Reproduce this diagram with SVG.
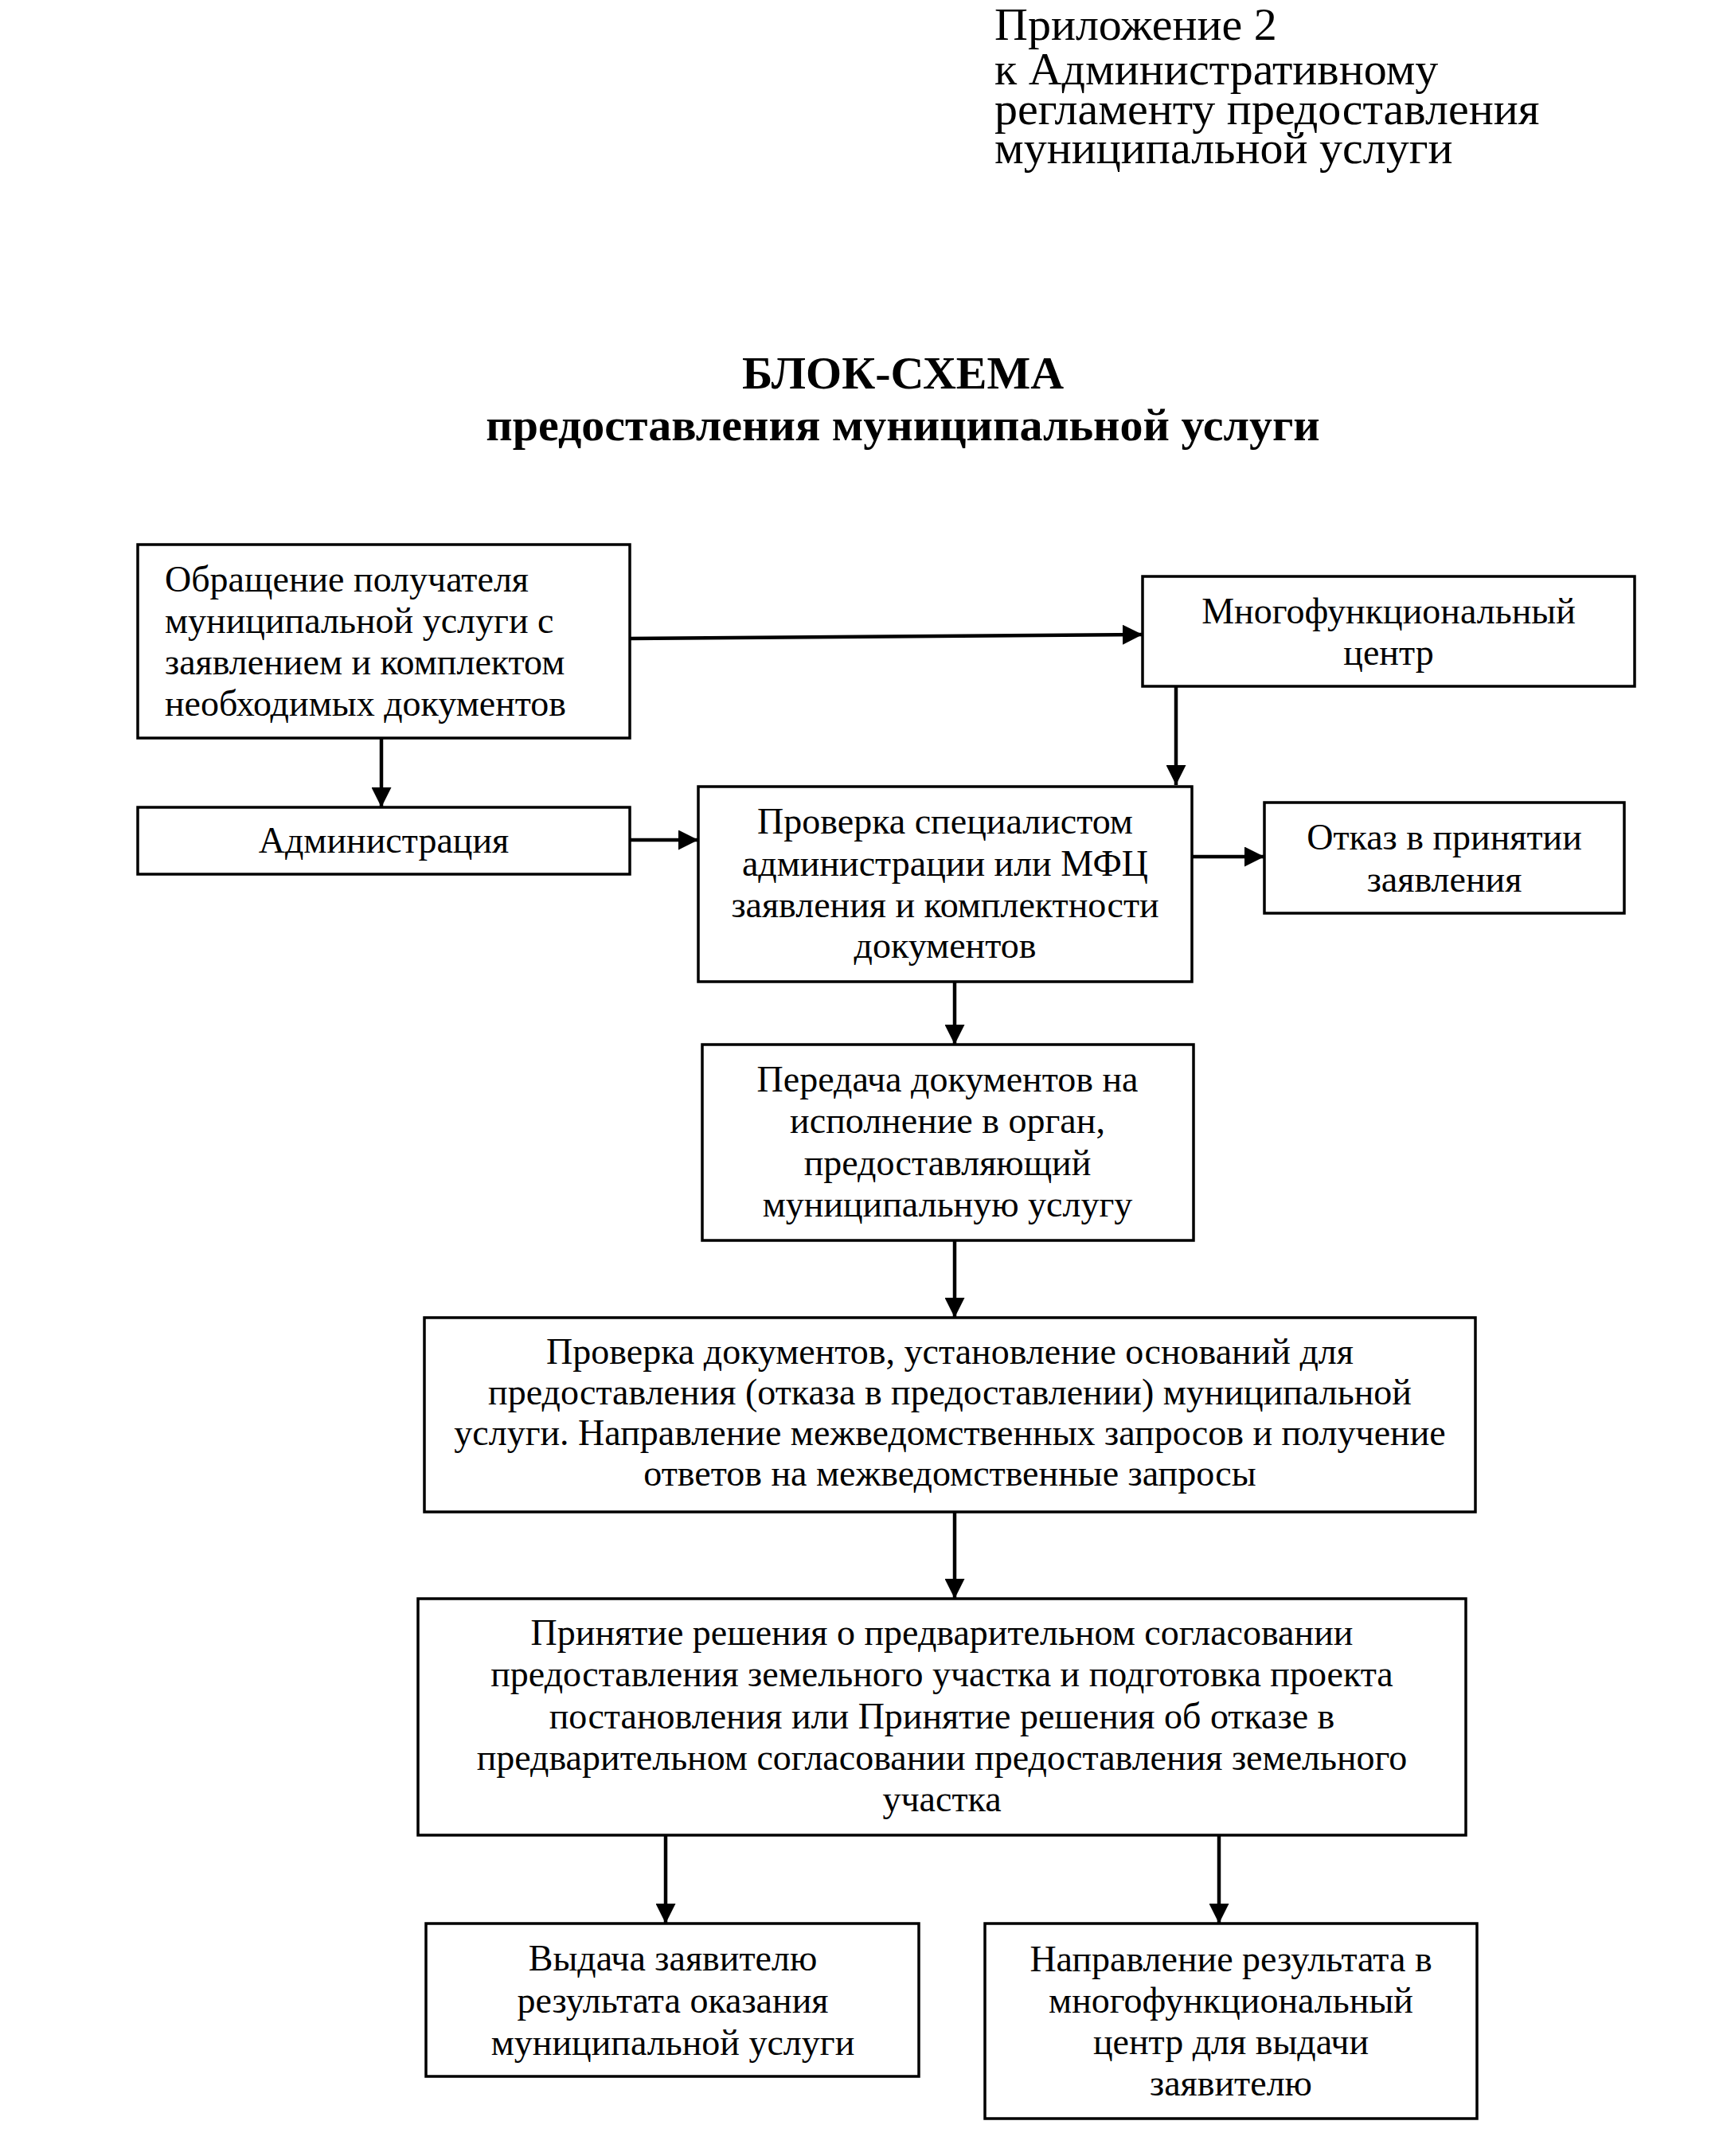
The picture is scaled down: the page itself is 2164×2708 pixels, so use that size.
<svg xmlns="http://www.w3.org/2000/svg" width="2164" height="2708" viewBox="0 0 2164 2708">
<style>
.box{fill:#fff;stroke:#000;stroke-width:3.5}
.t{font-family:"Liberation Serif","Times New Roman",serif;font-size:46px;fill:#000}
.c{text-anchor:middle}
.hdr{font-family:"Liberation Serif","Times New Roman",serif;font-size:58px;fill:#000}
.ttl{font-family:"Liberation Serif","Times New Roman",serif;font-size:58px;font-weight:bold;fill:#000;text-anchor:middle}
.conn{stroke:#000;stroke-width:4.5;fill:none;marker-end:url(#ah)}
</style>
<defs>
<marker id="ah" viewBox="0 0 24 24" refX="24" refY="12" markerWidth="25" markerHeight="25" markerUnits="userSpaceOnUse" orient="auto">
<path d="M0,0 L24,12 L0,24 z" fill="#000"/>
</marker>
</defs>
<rect width="2164" height="2708" fill="#fff"/>
<g id="header">
<text class="hdr" x="1249" y="50">Приложение 2</text>
<text class="hdr" x="1249" y="106">к Административному</text>
<text class="hdr" x="1249" y="156">регламенту предоставления</text>
<text class="hdr" x="1249" y="205">муниципальной услуги</text>
</g>
<g id="title">
<text class="ttl" x="1134" y="488">БЛОК-СХЕМА</text>
<text class="ttl" x="1134" y="553">предоставления муниципальной услуги</text>
</g>
<g id="connectors">
<line class="conn" x1="791" y1="802" x2="1435" y2="797"/>
<line class="conn" x1="479" y1="927" x2="479" y2="1014"/>
<line class="conn" x1="1477" y1="862" x2="1477" y2="986"/>
<line class="conn" x1="791" y1="1055" x2="877" y2="1055"/>
<line class="conn" x1="1497" y1="1076" x2="1588" y2="1076"/>
<line class="conn" x1="1199" y1="1233" x2="1199" y2="1312"/>
<line class="conn" x1="1199" y1="1558" x2="1199" y2="1655"/>
<line class="conn" x1="1199" y1="1899" x2="1199" y2="2008"/>
<line class="conn" x1="836" y1="2305" x2="836" y2="2416"/>
<line class="conn" x1="1531" y1="2305" x2="1531" y2="2416"/>
</g>
<g id="n1">
<rect class="box" x="173" y="684" width="618" height="243"/>
<text class="t" x="207" y="743">Обращение получателя</text>
<text class="t" x="207" y="795">муниципальной услуги с</text>
<text class="t" x="207" y="847">заявлением и комплектом</text>
<text class="t" x="207" y="899">необходимых документов</text>
</g>
<g id="n2">
<rect class="box" x="173" y="1014" width="618" height="84"/>
<text class="t c" x="482" y="1071">Администрация</text>
</g>
<g id="n3">
<rect class="box" x="1435" y="724" width="618" height="138"/>
<text class="t c" x="1744" y="783">Многофункциональный</text>
<text class="t c" x="1744" y="835">центр</text>
</g>
<g id="n4">
<rect class="box" x="877" y="988" width="620" height="245"/>
<text class="t c" x="1187" y="1047">Проверка специалистом</text>
<text class="t c" x="1187" y="1100">администрации или МФЦ</text>
<text class="t c" x="1187" y="1152">заявления и комплектности</text>
<text class="t c" x="1187" y="1203">документов</text>
</g>
<g id="n5">
<rect class="box" x="1588" y="1008" width="452" height="139"/>
<text class="t c" x="1814" y="1067">Отказ в принятии</text>
<text class="t c" x="1814" y="1120">заявления</text>
</g>
<g id="n6">
<rect class="box" x="882" y="1312" width="617" height="246"/>
<text class="t c" x="1190" y="1371">Передача документов на</text>
<text class="t c" x="1190" y="1423">исполнение в орган,</text>
<text class="t c" x="1190" y="1476">предоставляющий</text>
<text class="t c" x="1190" y="1528">муниципальную услугу</text>
</g>
<g id="n7">
<rect class="box" x="533" y="1655" width="1320" height="244"/>
<text class="t c" x="1193" y="1713">Проверка документов, установление оснований для</text>
<text class="t c" x="1193" y="1764">предоставления (отказа в предоставлении) муниципальной</text>
<text class="t c" x="1193" y="1815">услуги. Направление межведомственных запросов и получение</text>
<text class="t c" x="1193" y="1866">ответов на межведомственные запросы</text>
</g>
<g id="n8">
<rect class="box" x="525" y="2008" width="1316" height="297"/>
<text class="t c" x="1183" y="2066">Принятие решения о предварительном согласовании</text>
<text class="t c" x="1183" y="2118">предоставления земельного участка и подготовка проекта</text>
<text class="t c" x="1183" y="2171">постановления или Принятие решения об отказе в</text>
<text class="t c" x="1183" y="2223">предварительном согласовании предоставления земельного</text>
<text class="t c" x="1183" y="2275">участка</text>
</g>
<g id="n9">
<rect class="box" x="535" y="2416" width="619" height="192"/>
<text class="t c" x="845" y="2475">Выдача заявителю</text>
<text class="t c" x="845" y="2528">результата оказания</text>
<text class="t c" x="845" y="2581">муниципальной услуги</text>
</g>
<g id="n10">
<rect class="box" x="1237" y="2416" width="618" height="245"/>
<text class="t c" x="1546" y="2476">Направление результата в</text>
<text class="t c" x="1546" y="2528">многофункциональный</text>
<text class="t c" x="1546" y="2580">центр для выдачи</text>
<text class="t c" x="1546" y="2632">заявителю</text>
</g>
</svg>
